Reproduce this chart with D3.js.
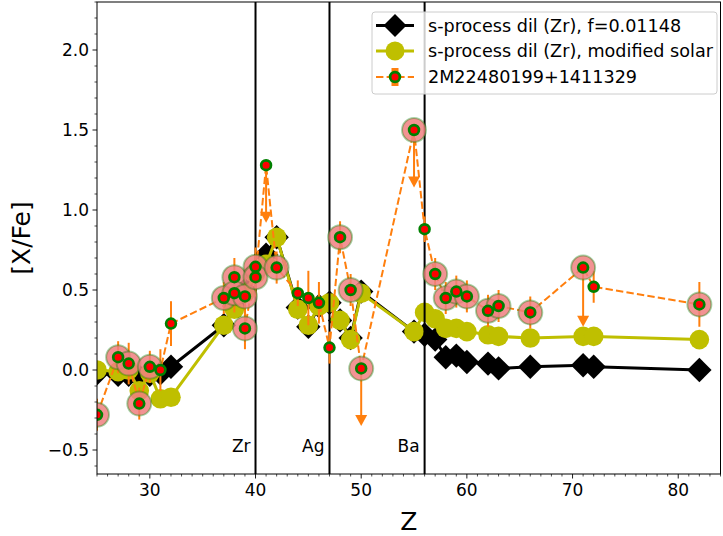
<!DOCTYPE html>
<html><head><meta charset="utf-8">
<script src="https://cdn.jsdelivr.net/npm/d3@7"></script>
<style>body{margin:0;background:#fff}svg{display:block}text{font-family:"DejaVu Sans",sans-serif}</style>
</head><body><svg id="c" width="723" height="536"></svg>
<script>
// ---- data ----
const modelZ   = [25,27,28,29,30,31,32,37,38,39,40,41,42,44,45,46,47,48,49,50,55,56,57,58,59,60,62,63,66,71,72,82];
const dilF     = [-0.02,-0.03,-0.03,-0.04,-0.03,-0.02,0.02,0.28,0.40,0.50,0.62,0.72,0.83,0.39,0.27,0.40,0.42,0.31,0.20,0.49,0.24,0.22,0.19,0.08,0.09,0.05,0.04,0.01,0.02,0.03,0.02,0.00];
const dilSolar = [0.00,-0.01,0.00,-0.13,-0.02,-0.18,-0.17,0.28,0.38,0.48,0.60,0.66,0.83,0.38,0.28,0.40,0.42,0.31,0.19,0.48,0.24,0.36,0.32,0.26,0.26,0.24,0.22,0.21,0.20,0.21,0.21,0.19];

const starZ     = [25,27,28,29,30,31,32,37,38,38,39,39,40,40,41,42,44,45,46,47,48,49,50,55,56,57,58,59,60,62,63,66,71,72,82];
const starVal   = [-0.28,0.08,0.04,-0.21,0.02,0.00,0.29,0.45,0.58,0.48,0.46,0.26,0.645,0.58,1.28,0.64,0.48,0.45,0.42,0.14,0.83,0.50,0.01,1.50,0.88,0.60,0.45,0.49,0.46,0.37,0.40,0.36,0.64,0.52,0.41];
const starErr   = [0.10,0.10,0.13,0.10,0.10,0.13,0.14,0.10,0.12,0.12,0.12,0.13,0.12,0.12,0.36,0.10,0.08,0.17,0.13,0.10,0.10,0.10,0.36,0.36,0.08,0.10,0.10,0.10,0.10,0.10,0.10,0.10,0.37,0.10,0.14];
const starUpper = [0,0,0,0,0,0,0,0,0,0,0,0,0,0,1,0,0,0,0,0,0,0,1,1,0,0,0,0,0,0,0,0,1,0,0];
const starHalo  = [1,1,1,1,1,0,0,1,1,1,1,1,1,1,0,1,0,0,0,0,1,1,1,1,0,1,1,1,1,1,1,1,1,0,1];

const markZ = [40,47,56];
const markLabel = ["Zr","Ag","Ba"];
const xTicks = [30,40,50,60,70,80];
const yTicks = [-0.5,0.0,0.5,1.0,1.5,2.0];
const legendLabels = ["s-process dil (Zr), f=0.01148","s-process dil (Zr), modified solar","2M22480199+1411329"];

// ---- layout ----
const L=97, R=720.5, T=2, B=474;
const svg=d3.select("#c");
const x=d3.scaleLinear().domain([25,84]).range([L,R]);
const y=d3.scaleLinear().domain([-0.65,2.3]).range([B,T]);
const ORANGE="#ff7f0e", YEL="#bfbf00";

svg.append("clipPath").attr("id","cp").append("rect").attr("x",L).attr("y",T).attr("width",R-L).attr("height",B-T);
const g=svg.append("g").attr("clip-path","url(#cp)");

// black model
const lineGen=(vals)=>d3.line().x((d,i)=>x(modelZ[i])).y((d,i)=>y(vals[i]));
g.append("path").datum(dilF).attr("d",lineGen(dilF)).attr("fill","none").attr("stroke","#000").attr("stroke-width",3);
g.selectAll(".dia").data(dilF).enter().append("path")
 .attr("d",d3.symbol().type(d3.symbolSquare).size(2*12.2*12.2))
 .attr("transform",(d,i)=>`translate(${x(modelZ[i])},${y(d)}) rotate(45)`).attr("fill","#000");
// yellow model
g.append("path").datum(dilSolar).attr("d",lineGen(dilSolar)).attr("fill","none").attr("stroke",YEL).attr("stroke-width",3);
g.selectAll(".yc").data(dilSolar).enter().append("circle")
 .attr("cx",(d,i)=>x(modelZ[i])).attr("cy",d=>y(d)).attr("r",9.8).attr("fill",YEL);

// vertical lines
markZ.forEach((z,i)=>{
  g.append("line").attr("x1",x(z)).attr("x2",x(z)).attr("y1",T).attr("y2",B).attr("stroke","#000").attr("stroke-width",2);
  g.append("text").attr("x",x(z)-5).attr("y",y(-0.5)+2).attr("text-anchor","end").attr("font-size",17).text(markLabel[i]);
});

// star data
g.append("path").datum(starVal)
 .attr("d",d3.line().x((d,i)=>x(starZ[i])).y(d=>y(d)))
 .attr("fill","none").attr("stroke",ORANGE).attr("stroke-width",2).attr("stroke-dasharray","7.4,3.2");
starVal.forEach((v,i)=>{
  const cx=x(starZ[i]);
  if(starUpper[i]){
    const tip=y(v-starErr[i]);
    g.append("line").attr("x1",cx).attr("x2",cx).attr("y1",y(v)).attr("y2",tip-8).attr("stroke",ORANGE).attr("stroke-width",2);
    g.append("path").attr("d",`M${cx-6},${tip-11}L${cx+6},${tip-11}L${cx},${tip}Z`).attr("fill",ORANGE);
  } else {
    g.append("line").attr("x1",cx).attr("x2",cx).attr("y1",y(v-starErr[i])).attr("y2",y(v+starErr[i])).attr("stroke",ORANGE).attr("stroke-width",2);
  }
});
starVal.forEach((v,i)=>{
  if(starHalo[i]) g.append("circle").attr("cx",x(starZ[i])).attr("cy",y(v)).attr("r",12)
    .attr("fill","rgba(240,128,128,0.85)").attr("stroke","rgba(0,128,0,0.35)").attr("stroke-width",2);
});
starVal.forEach((v,i)=>{
  g.append("circle").attr("cx",x(starZ[i])).attr("cy",y(v)).attr("r",4.9)
    .attr("fill","#ff0000").attr("stroke","#008000").attr("stroke-width",2.7);
});

// axes frame
svg.append("rect").attr("x",L).attr("y",T).attr("width",R-L).attr("height",B-T).attr("fill","none").attr("stroke","#000").attr("stroke-width",1);

// x axis
const xa=svg.append("g").attr("transform",`translate(0,${B})`);
d3.range(25,85,1).forEach(v=>{ if(!xTicks.includes(v)) xa.append("line").attr("x1",x(v)).attr("x2",x(v)).attr("y1",0).attr("y2",2.5).attr("stroke","#000").attr("stroke-width",0.7);});
xTicks.forEach(v=>{
  xa.append("line").attr("x1",x(v)).attr("x2",x(v)).attr("y1",0).attr("y2",4.5).attr("stroke","#000").attr("stroke-width",0.9);
  xa.append("text").attr("x",x(v)).attr("y",22).attr("text-anchor","middle").attr("font-size",17).text(v);
});
svg.append("text").attr("x",(L+R)/2).attr("y",530).attr("text-anchor","middle").attr("font-size",25).text("Z");

// y axis
const ya=svg.append("g");
d3.range(-6,24,1).forEach(k=>{ const v=k/10; if(Math.abs(v*2-Math.round(v*2))>1e-6) ya.append("line").attr("x1",L).attr("x2",L-2.5).attr("y1",y(v)).attr("y2",y(v)).attr("stroke","#000").attr("stroke-width",0.7);});
yTicks.forEach(v=>{
  ya.append("line").attr("x1",L).attr("x2",L-4.5).attr("y1",y(v)).attr("y2",y(v)).attr("stroke","#000").attr("stroke-width",0.9);
  ya.append("text").attr("x",L-8).attr("y",y(v)+6).attr("text-anchor","end").attr("font-size",17).text(d3.format(".1f")(v).replace("-","\u2212"));
});
svg.append("text").attr("transform",`translate(30,${(T+B)/2}) rotate(-90)`).attr("text-anchor","middle").attr("font-size",25).text("[X/Fe]");

// legend
const lg=svg.append("g");
lg.append("rect").attr("x",372).attr("y",12).attr("width",345).attr("height",82).attr("rx",3)
  .attr("fill","rgba(255,255,255,0.8)").attr("stroke","#cccccc").attr("stroke-width",1);
const rows=[25.5,51,77];
lg.append("line").attr("x1",376).attr("x2",414).attr("y1",rows[0]).attr("y2",rows[0]).attr("stroke","#000").attr("stroke-width",3);
lg.append("path").attr("d",d3.symbol().type(d3.symbolSquare).size(2*11.5*11.5)).attr("transform",`translate(395,${rows[0]}) rotate(45)`).attr("fill","#000");
lg.append("line").attr("x1",376).attr("x2",414).attr("y1",rows[1]).attr("y2",rows[1]).attr("stroke",YEL).attr("stroke-width",3);
lg.append("circle").attr("cx",395).attr("cy",rows[1]).attr("r",9.5).attr("fill",YEL);
lg.append("line").attr("x1",376).attr("x2",414).attr("y1",rows[2]).attr("y2",rows[2]).attr("stroke",ORANGE).attr("stroke-width",2).attr("stroke-dasharray","7.4,3.2");
lg.append("line").attr("x1",395).attr("x2",395).attr("y1",rows[2]-9).attr("y2",rows[2]+9).attr("stroke",ORANGE).attr("stroke-width",7);
lg.append("circle").attr("cx",395).attr("cy",rows[2]).attr("r",4.9).attr("fill","#ff0000").attr("stroke","#008000").attr("stroke-width",2.7);
legendLabels.forEach((t,i)=>lg.append("text").attr("x",428).attr("y",rows[i]+6).attr("font-size",17.6).text(t));
</script></body></html>
